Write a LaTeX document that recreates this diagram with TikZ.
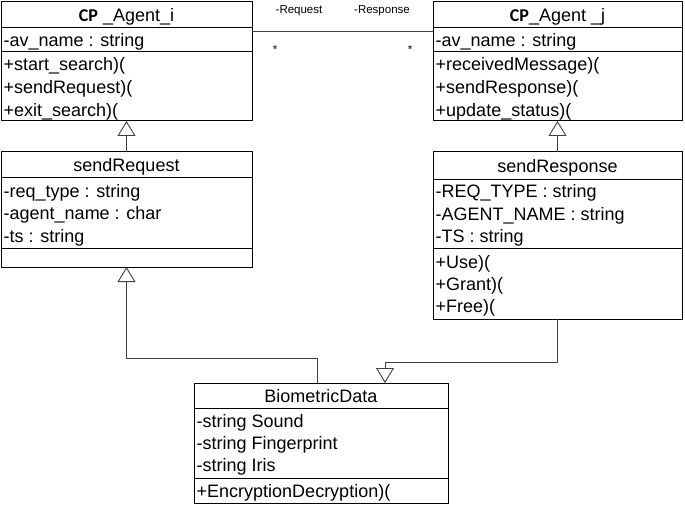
\documentclass[tikz,border=0pt]{standalone}
\usepackage{fontspec}
\setmainfont{Liberation Sans}
\newfontfamily\cpfont{Carlito}
\usetikzlibrary{arrows.meta}
\begin{document}
\begin{tikzpicture}[x=1pt,y=-1pt,
  box/.style={draw=black,line width=1pt,anchor=north west,inner sep=0pt,outer sep=0pt},
  txt/.style={anchor=west,inner sep=0pt,text height=13pt,text depth=0pt,font=\fontsize{18}{20}\selectfont},
  ttl/.style={anchor=center,inner sep=0pt,text height=13pt,text depth=0pt,font=\fontsize{18}{20}\selectfont},
  lbl/.style={anchor=base,inner sep=0pt,font=\fontsize{11.5}{13}\selectfont},
  star/.style={anchor=center,inner sep=0pt,font=\fontsize{11.5}{13}\selectfont},
  sep/.style={draw=black,line width=1pt},
  conn/.style={draw=black!75,line width=0.9pt},
  gen/.style={conn,-{Triangle[open,width=18pt,length=15pt]}}]
\useasboundingbox (0,0) rectangle (685,505);

% CP_Agent_i
\node[box,minimum width=251pt,minimum height=119pt] (ai) at (1,2) {};
\draw[sep] ([yshift=-26pt]ai.north west) -- ([yshift=-26pt]ai.north east);
\draw[sep] ([yshift=-50pt]ai.north west) -- ([yshift=-50pt]ai.north east);
\node[ttl] (aiT) at (126.5,15) {{\cpfont\bfseries CP} \_Agent\_i};
\node[txt] (aiA1) at (3.5,40) {-av\_name : string};
\node[txt] (aiM1) at (3.5,64) {+start\_search)(};
\node[txt] (aiM2) at (3.5,87) {+sendRequest)(};
\node[txt] (aiM3) at (3.5,110) {+exit\_search)(};

% CP_Agent_j
\node[box,minimum width=249pt,minimum height=119pt] (aj) at (433,2) {};
\draw[sep] ([yshift=-26pt]aj.north west) -- ([yshift=-26pt]aj.north east);
\draw[sep] ([yshift=-50pt]aj.north west) -- ([yshift=-50pt]aj.north east);
\node[ttl] (ajT) at (557.5,15) {{\cpfont\bfseries CP}\_Agent \_j};
\node[txt] (ajA1) at (435.5,40) {-av\_name : string};
\node[txt] (ajM1) at (435.5,64) {+receivedMessage)(};
\node[txt] (ajM2) at (435.5,87) {+sendResponse)(};
\node[txt] (ajM3) at (435.5,110) {+update\_status)(};

% sendRequest
\node[box,minimum width=251pt,minimum height=115pt] (sreq) at (1,152) {};
\draw[sep] ([yshift=-26pt]sreq.north west) -- ([yshift=-26pt]sreq.north east);
\draw[sep] ([yshift=-96pt]sreq.north west) -- ([yshift=-96pt]sreq.north east);
\node[ttl] (sreqT) at (126.5,165) {sendRequest};
\node[txt] (sreqA1) at (3.5,190.5) {-req\_type : string};
\node[txt] (sreqA2) at (3.5,213) {-agent\_name : char};
\node[txt] (sreqA3) at (3.5,235.5) {-ts : string};

% sendResponse
\node[box,minimum width=249pt,minimum height=167pt] (sres) at (433,152) {};
\draw[sep] ([yshift=-28pt]sres.north west) -- ([yshift=-28pt]sres.north east);
\draw[sep] ([yshift=-96pt]sres.north west) -- ([yshift=-96pt]sres.north east);
\node[ttl] (sresT) at (557.5,166) {sendResponse};
\node[txt] (sresA1) at (435.5,191) {-REQ\_TYPE : string};
\node[txt] (sresA2) at (435.5,213.5) {-AGENT\_NAME : string};
\node[txt] (sresA3) at (435.5,236) {-TS : string};
\node[txt] (sresM1) at (435.5,261.5) {+Use)(};
\node[txt] (sresM2) at (435.5,284) {+Grant)(};
\node[txt] (sresM3) at (435.5,306) {+Free)(};

% BiometricData
\node[box,minimum width=254pt,minimum height=120pt] (bio) at (194,383) {};
\draw[sep] ([yshift=-25pt]bio.north west) -- ([yshift=-25pt]bio.north east);
\draw[sep] ([yshift=-95pt]bio.north west) -- ([yshift=-95pt]bio.north east);
\node[ttl] (bioT) at (321,395.5) {BiometricData};
\node[txt] (bioA1) at (196.5,420.5) {-string Sound};
\node[txt] (bioA2) at (196.5,442.5) {-string Fingerprint};
\node[txt] (bioA3) at (196.5,464.5) {-string Iris};
\node[txt] (bioM1) at (196.5,490.5) {+EncryptionDecryption)(};

% association
\draw[conn] ([yshift=-29pt]ai.north east) -- ([yshift=-29pt]aj.north west);
\node[lbl] (lreq) at (299,14) {-Request};
\node[lbl] (lres) at (382,14) {-Response};
\node[star] (s1) at (275,50) {*};
\node[star] (s2) at (410,50) {*};

% generalizations
\draw[gen] (sreq.north) -- (ai.south);
\draw[gen] (sres.north) -- (aj.south);
\draw[gen] ([xshift=123pt]bio.north west) -- ++(0,-25) -| (sreq.south);
\draw[gen] (sres.south) -- ++(0,43) -| ([xshift=191pt]bio.north west);
\end{tikzpicture}
\end{document}
